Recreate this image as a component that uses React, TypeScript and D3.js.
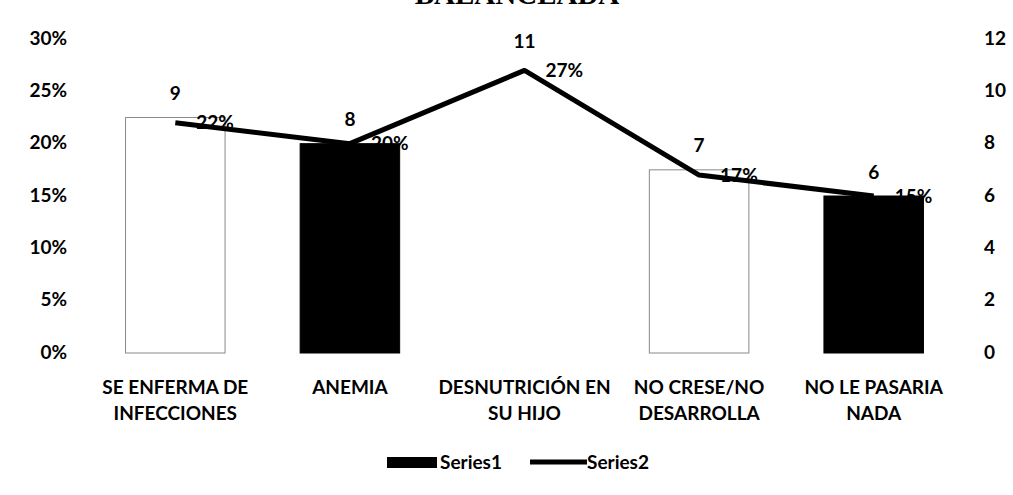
import React from "react";
import * as d3 from "d3";

const categories = [
  ["SE ENFERMA DE", "INFECCIONES"],
  ["ANEMIA"],
  ["DESNUTRICIÓN EN", "SU HIJO"],
  ["NO CRESE/NO", "DESARROLLA"],
  ["NO LE PASARIA", "NADA"],
];
const series1 = [9, 8, 11, 7, 6];
const series2 = [0.22, 0.2, 0.27, 0.17, 0.15];
const series2Labels = ["22%", "20%", "27%", "17%", "15%"];
const leftTicks = [0, 0.05, 0.1, 0.15, 0.2, 0.25, 0.3];
const rightTicks = [0, 2, 4, 6, 8, 10, 12];
const barFills = ["#ffffff", "#000000", "#ffffff", "#ffffff", "#000000"];
const barStrokes = ["#8a8a8a", "#000000", "none", "#8a8a8a", "#000000"];

const W = 1013;
const H = 495;
const FONT = "Lato, 'Open Sans', sans-serif";
const FS = 19;

export default function App() {
  const x = d3
    .scaleBand<number>()
    .domain(d3.range(categories.length))
    .range([88, 961])
    .paddingInner(0.43)
    .paddingOuter(0.215);
  const yL = d3.scaleLinear().domain([0, 0.3]).range([353, 39]);
  const yR = d3.scaleLinear().domain([0, 12]).range([353, 39]);
  const cx = (i: number) => (x(i) as number) + x.bandwidth() / 2;
  const line = d3
    .line<number>()
    .x((_, i) => cx(i))
    .y((d) => yL(d));

  return (
    <svg
      width={W}
      height={H}
      style={{ position: "absolute", left: 0, top: 0, background: "#fff" }}
      fontFamily={FONT}
    >
      <text
        x={517}
        y={4}
        textAnchor="middle"
        fontFamily="'Liberation Serif', 'DejaVu Serif', serif"
        fontWeight="bold"
        fontSize={29}
      >
        BALANCEADA
      </text>
      {leftTicks.map((t) => (
        <text
          key={"l" + t}
          x={67}
          y={yL(t) - 1}
          dy="0.35em"
          textAnchor="end"
          fontWeight="bold"
          fontSize={FS}
        >
          {Math.round(t * 100) + "%"}
        </text>
      ))}
      {rightTicks.map((t) => (
        <text
          key={"r" + t}
          x={984}
          y={yR(t) - 1}
          dy="0.35em"
          textAnchor="start"
          fontWeight="bold"
          fontSize={FS}
        >
          {t}
        </text>
      ))}
      {series1.map((v, i) => (
        <rect
          key={"b" + i}
          x={x(i)}
          y={yR(v)}
          width={x.bandwidth()}
          height={yR(0) - yR(v)}
          fill={barFills[i]}
          stroke={barStrokes[i]}
          strokeWidth={1}
        />
      ))}
      <path
        d={line(series2) || ""}
        fill="none"
        stroke="#000"
        strokeWidth={5}
        strokeLinejoin="round"
      />
      {series1.map((v, i) => (
        <text
          key={"bl" + i}
          x={cx(i)}
          y={yR(v) - 24}
          dy="0.35em"
          textAnchor="middle"
          fontWeight="bold"
          fontSize={FS}
        >
          {v}
        </text>
      ))}
      {series2.map((v, i) => (
        <text
          key={"ll" + i}
          x={cx(i) + 21}
          y={yL(v)}
          dy="0.35em"
          textAnchor="start"
          fontWeight="bold"
          fontSize={FS}
          fill="#000"
        >
          {series2Labels[i]}
        </text>
      ))}
      {categories.map((lines, i) =>
        lines.map((l, j) => (
          <text
            key={"c" + i + j}
            x={cx(i)}
            y={387 + j * 26}
            dy="0.35em"
            textAnchor="middle"
            fontWeight="bold"
            fontSize={FS}
          >
            {l}
          </text>
        ))
      )}
      <g>
        <rect x={387} y={457} width={50} height={11} fill="#000" />
        <text x={440} y={462} dy="0.35em" fontWeight="bold" fontSize={FS}>
          Series1
        </text>
        <line x1={530} x2={587} y1={462} y2={462} stroke="#000" strokeWidth={5} />
        <text x={587} y={462} dy="0.35em" fontWeight="bold" fontSize={FS}>
          Series2
        </text>
      </g>
    </svg>
  );
}
